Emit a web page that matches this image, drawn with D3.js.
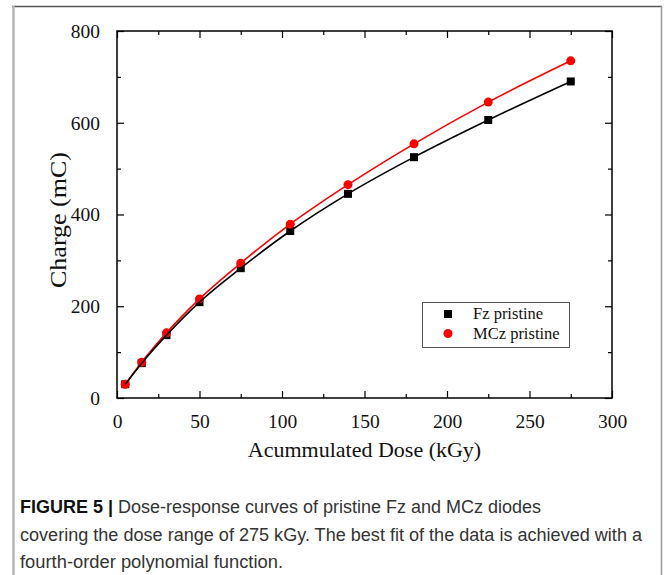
<!DOCTYPE html>
<html>
<head>
<meta charset="utf-8">
<script src="https://cdn.jsdelivr.net/npm/d3@7/dist/d3.min.js"></script>
<style>
html,body{margin:0;padding:0;background:#fff;}
svg{display:block;}
</style>
</head>
<body>
<svg id="chart" width="665" height="575"></svg>
<script>
const dose = [5, 15, 30, 50, 75, 105, 140, 180, 225, 275];
const fzCharge = [30, 76, 137, 209, 283, 364, 445, 525, 606, 690];
const mczCharge = [30, 78, 142, 216, 294, 379, 465, 554, 645, 735];
const fzErr = [2, 2, 3, 3, 3, 4, 4, 5, 5, 7];
const mczErr = [2, 2, 3, 3, 3, 4, 4, 5, 5, 8];
const xTicks = [0, 50, 100, 150, 200, 250, 300];
const yTicks = [0, 200, 400, 600, 800];
const seriesNames = ["Fz pristine", "MCz pristine"];
const captionLines = [
  "Dose-response curves of pristine Fz and MCz diodes",
  "covering the dose range of 275 kGy. The best fit of the data is achieved with a",
  "fourth-order polynomial function."
];

const svg = d3.select("#chart");
// outer frame
svg.append("line").attr("x1",12).attr("x2",662).attr("y1",6.5).attr("y2",6.5).attr("stroke","#555").attr("stroke-width",1.5);
svg.append("line").attr("x1",13.5).attr("x2",13.5).attr("y1",6).attr("y2",575).attr("stroke","#b5b5b5").attr("stroke-width",2.5);
svg.append("line").attr("x1",661.5).attr("x2",661.5).attr("y1",6).attr("y2",575).attr("stroke","#999").attr("stroke-width",1.5);

const L=117, R=612, T=31, B=398;
const x = d3.scaleLinear().domain([0,300]).range([L,R]);
const y = d3.scaleLinear().domain([0,800]).range([B,T]);

const g = svg.append("g");
const serif = "'Liberation Serif','Times New Roman',serif";

function styleAxis(sel){
  sel.select(".domain").remove();
  sel.selectAll("line").attr("stroke","#000").attr("stroke-width",1.2);
  sel.selectAll("text").attr("font-family",serif).attr("font-size",19.5).attr("fill","#111");
}
const minorX = d3.range(25,300,50), minorY = d3.range(100,800,200);
g.append("g").attr("transform",`translate(0,${B})`)
  .call(d3.axisBottom(x).tickValues(xTicks).tickSizeInner(-7).tickSizeOuter(0).tickPadding(16))
  .call(styleAxis);
g.append("g").attr("transform",`translate(0,${B})`)
  .call(d3.axisBottom(x).tickValues(minorX).tickSizeInner(-4).tickSizeOuter(0).tickFormat(""))
  .call(styleAxis);
g.append("g").attr("transform",`translate(0,${T})`)
  .call(d3.axisTop(x).tickValues(xTicks).tickSizeInner(-7).tickSizeOuter(0).tickFormat(""))
  .call(styleAxis);
g.append("g").attr("transform",`translate(0,${T})`)
  .call(d3.axisTop(x).tickValues(minorX).tickSizeInner(-4).tickSizeOuter(0).tickFormat(""))
  .call(styleAxis);
g.append("g").attr("transform",`translate(${L},0)`)
  .call(d3.axisLeft(y).tickValues(yTicks).tickSizeInner(-7).tickSizeOuter(0).tickPadding(17))
  .call(styleAxis);
g.append("g").attr("transform",`translate(${L},0)`)
  .call(d3.axisLeft(y).tickValues(minorY).tickSizeInner(-4).tickSizeOuter(0).tickFormat(""))
  .call(styleAxis);
g.append("g").attr("transform",`translate(${R},0)`)
  .call(d3.axisRight(y).tickValues(yTicks).tickSizeInner(-7).tickSizeOuter(0).tickFormat(""))
  .call(styleAxis);
g.append("g").attr("transform",`translate(${R},0)`)
  .call(d3.axisRight(y).tickValues(minorY).tickSizeInner(-4).tickSizeOuter(0).tickFormat(""))
  .call(styleAxis);
g.append("rect").attr("x",L).attr("y",T).attr("width",R-L).attr("height",B-T)
  .attr("fill","none").attr("stroke","#000").attr("stroke-width",1.5);

// axis titles
g.append("text").attr("x",(L+R)/2).attr("y",457).attr("text-anchor","middle")
  .attr("font-family",serif).attr("font-size",22).attr("fill","#111").text("Acummulated Dose (kGy)");
g.append("text").attr("transform",`translate(66,220) rotate(-90)`).attr("text-anchor","middle")
  .attr("font-family",serif).attr("font-size",23).attr("fill","#111")
  .attr("textLength",136).attr("lengthAdjust","spacingAndGlyphs").text("Charge (mC)");

const fz = dose.map((d,i)=>({x:d,y:fzCharge[i],e:fzErr[i]}));
const mcz = dose.map((d,i)=>({x:d,y:mczCharge[i],e:mczErr[i]}));
const line = d3.line().x(d=>x(d.x)).y(d=>y(d.y)).curve(d3.curveMonotoneX);

function errbars(data,color){
  g.append("g").selectAll("line").data(data).join("line")
    .attr("x1",d=>x(d.x)).attr("x2",d=>x(d.x)).attr("y1",d=>y(d.y-d.e)).attr("y2",d=>y(d.y+d.e))
    .attr("stroke",color).attr("stroke-width",1);
}
errbars(fz,"#000"); errbars(mcz,"#f00");
g.append("g").selectAll("rect").data(fz).join("rect")
  .attr("x",d=>x(d.x)-4).attr("y",d=>y(d.y)-4).attr("width",8).attr("height",8).attr("fill","#000");
g.append("g").selectAll("circle").data(mcz).join("circle")
  .attr("cx",d=>x(d.x)).attr("cy",d=>y(d.y)).attr("r",4.5).attr("fill","#f00");
g.append("path").datum(mcz).attr("d",line).attr("fill","none").attr("stroke","#f00").attr("stroke-width",1.6);
g.append("path").datum(fz).attr("d",line).attr("fill","none").attr("stroke","#000").attr("stroke-width",1.6);

// legend
const lg = g.append("g");
lg.append("rect").attr("x",422.5).attr("y",302.5).attr("width",147).attr("height",45)
  .attr("fill","#fff").attr("stroke","#555").attr("stroke-width",1);
lg.append("rect").attr("x",444).attr("y",310).attr("width",8).attr("height",8).attr("fill","#000");
lg.append("circle").attr("cx",448).attr("cy",333.5).attr("r",4.5).attr("fill","#f00");
lg.selectAll("text.lt").data(seriesNames).join("text").attr("class","lt")
  .attr("x",473).attr("y",(d,i)=>319+i*19.5)
  .attr("font-family",serif).attr("font-size",16.5).attr("fill","#111").text(d=>d);

// caption
const sans = "'Liberation Sans',Arial,Helvetica,sans-serif";
const cap = svg.append("g").attr("font-family",sans).attr("font-size",17.5).attr("fill","#333");
const t1 = cap.append("text").attr("x",20).attr("y",513);
t1.append("tspan").attr("font-weight","bold").attr("fill","#111").text("FIGURE 5 | ");
t1.append("tspan").text(captionLines[0]);
t1.attr("textLength",521).attr("lengthAdjust","spacingAndGlyphs");
cap.append("text").attr("x",20).attr("y",541).attr("textLength",622).attr("lengthAdjust","spacingAndGlyphs").text(captionLines[1]);
cap.append("text").attr("x",20).attr("y",568).attr("textLength",263).attr("lengthAdjust","spacingAndGlyphs").text(captionLines[2]);
</script>
</body>
</html>
